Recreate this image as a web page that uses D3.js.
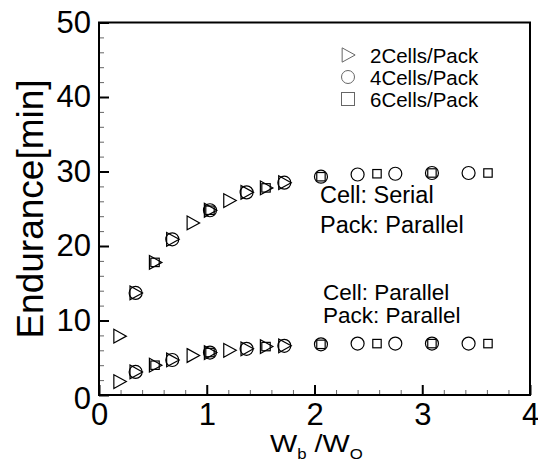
<!DOCTYPE html>
<html>
<head>
<meta charset="utf-8">
<script src="https://cdn.jsdelivr.net/npm/d3@7"></script>
<style>
body{margin:0;background:#fff;}
text{font-family:"Liberation Sans",Arial,Helvetica,sans-serif;fill:#000;}
</style>
</head>
<body>
<div id="canvas"></div>
<script>
// x positions (Wb/Wo) for each pack size
var twoCellX  = [0.19, 0.34, 0.52, 0.68, 0.87, 1.03, 1.21, 1.37, 1.55, 1.72];
var fourCellX = [0.34, 0.68, 1.03, 1.37, 1.72, 2.06, 2.40, 2.75, 3.09, 3.43];
var sixCellX  = [0.52, 1.03, 1.55, 2.06, 2.58, 3.09, 3.61];

// endurance [min], cell serial / pack parallel
var twoCellSerial  = [7.9, 13.7, 17.8, 20.9, 23.1, 24.8, 26.1, 27.2, 27.8, 28.5];
var fourCellSerial = [13.7, 20.9, 24.8, 27.2, 28.5, 29.3, 29.6, 29.7, 29.8, 29.8];
var sixCellSerial  = [17.8, 24.8, 27.8, 29.3, 29.7, 29.8, 29.8];

// endurance [min], cell parallel / pack parallel
var twoCellParallel  = [1.8, 3.1, 4.0, 4.7, 5.3, 5.7, 6.0, 6.2, 6.5, 6.6];
var fourCellParallel = [3.1, 4.7, 5.7, 6.2, 6.6, 6.8, 6.9, 6.9, 6.9, 6.9];
var sixCellParallel  = [4.0, 5.7, 6.5, 6.8, 6.9, 6.9, 6.9];

var legendLabels = ["2Cells/Pack", "4Cells/Pack", "6Cells/Pack"];
var xMajor = [0, 1, 2, 3, 4];
var yMajor = [0, 10, 20, 30, 40, 50];

var width = 538, height = 462;
var plotLeft = 99, plotRight = 530, plotTop = 22.5, plotBottom = 395;

var svg = d3.select("#canvas").append("svg")
	.attr("width", width)
	.attr("height", height);

var x = d3.scaleLinear().domain([0, 4]).range([plotLeft, plotRight]);
var y = d3.scaleLinear().domain([0, 50]).range([plotBottom, plotTop]);

// minor ticks
var xMinor = d3.range(0, 4.01, 0.2).filter(function(v){ return Math.abs(v - Math.round(v)) > 1e-6; });
var yMinor = d3.range(0, 50.1, 2).filter(function(v){ return v % 10 != 0; });

var gxm = svg.append("g").attr("transform", "translate(0," + plotBottom + ")")
	.call(d3.axisBottom(x).tickValues(xMinor).tickSize(-5).tickFormat(""));
var gym = svg.append("g").attr("transform", "translate(" + plotLeft + ",0)")
	.call(d3.axisLeft(y).tickValues(yMinor).tickSize(-5).tickFormat(""));
[gxm, gym].forEach(function(g){
	g.select(".domain").remove();
	g.selectAll("line").attr("stroke", "#666").attr("stroke-width", 1);
});

var gx = svg.append("g").attr("transform", "translate(0," + plotBottom + ")")
	.call(d3.axisBottom(x).tickValues(xMajor).tickSize(-10).tickPadding(8).tickFormat(d3.format("d")));
var gy = svg.append("g").attr("transform", "translate(" + plotLeft + ",0)")
	.call(d3.axisLeft(y).tickValues(yMajor).tickSize(-10).tickPadding(8).tickFormat(d3.format("d")));
[gx, gy].forEach(function(g){
	g.select(".domain").remove();
	g.selectAll("line").attr("stroke", "#000").attr("stroke-width", 2);
	g.selectAll("text").style("font-size", "31px").attr("fill", "#000")
		.style("font-family", '"Liberation Sans",Arial,sans-serif');
});
gy.selectAll("text").filter(function(d){ return d == 0; }).attr("dy", "0.45em");

// frame
svg.append("rect")
	.attr("x", plotLeft).attr("y", plotTop)
	.attr("width", plotRight - plotLeft).attr("height", plotBottom - plotTop)
	.attr("fill", "none").attr("stroke", "#000").attr("stroke-width", 2);

// marker shapes
function tri(s){ return "M" + (-s*0.45) + "," + (-s*0.55) + "L" + (s*0.55) + ",0L" + (-s*0.45) + "," + (s*0.55) + "Z"; }
function drawMarks(xs, ys, shape, cls){
	var g = svg.append("g").attr("class", cls);
	xs.forEach(function(v, i){
		var px = x(v), py = y(ys[i]);
		if(shape == "tri"){
			g.append("path").attr("d", tri(12.5)).attr("transform", "translate(" + px + "," + py + ")")
				.attr("fill", "none").attr("stroke", "#000").attr("stroke-width", 1.2);
		}else if(shape == "circle"){
			g.append("circle").attr("cx", px).attr("cy", py).attr("r", 6.5)
				.attr("fill", "none").attr("stroke", "#000").attr("stroke-width", 1.2);
		}else{
			g.append("rect").attr("x", px - 4.2).attr("y", py - 4.2).attr("width", 8.4).attr("height", 8.4)
				.attr("fill", "none").attr("stroke", "#000").attr("stroke-width", 1.2);
		}
	});
}
drawMarks(twoCellX, twoCellSerial, "tri", "two");
drawMarks(twoCellX, twoCellParallel, "tri", "two");
drawMarks(fourCellX, fourCellSerial, "circle", "four");
drawMarks(fourCellX, fourCellParallel, "circle", "four");
drawMarks(sixCellX, sixCellSerial, "sq", "six");
drawMarks(sixCellX, sixCellParallel, "sq", "six");

// legend
var shapes = ["tri", "circle", "sq"];
legendLabels.forEach(function(lab, i){
	var ly = 55 + i * 22;
	var lg = svg.append("g").attr("transform", "translate(348," + ly + ")");
	if(shapes[i] == "tri"){
		lg.append("path").attr("d", tri(13)).attr("fill", "none").attr("stroke", "#666").attr("stroke-width", 1);
	}else if(shapes[i] == "circle"){
		lg.append("circle").attr("r", 6.5).attr("fill", "none").attr("stroke", "#666").attr("stroke-width", 1);
	}else{
		lg.append("rect").attr("x", -6.5).attr("y", -6.5).attr("width", 13).attr("height", 13)
			.attr("fill", "none").attr("stroke", "#666").attr("stroke-width", 1);
	}
	lg.append("text").attr("x", 22).attr("y", 7.5).style("font-size", "20.5px").text(lab);
});

// annotations
svg.append("text").attr("x", 320).attr("y", 203).style("font-size", "23.5px").text("Cell: Serial");
svg.append("text").attr("x", 320).attr("y", 233).style("font-size", "23.5px").text("Pack: Parallel");
svg.append("text").attr("x", 323).attr("y", 300).style("font-size", "22.5px").text("Cell: Parallel");
svg.append("text").attr("x", 323).attr("y", 323).style("font-size", "22.5px").text("Pack: Parallel");

// axis titles
svg.append("text")
	.attr("transform", "translate(43,209) rotate(-90)")
	.attr("text-anchor", "middle")
	.style("font-size", "37px")
	.text("Endurance[min]");

var xt = svg.append("text").attr("transform", "translate(270,452) scale(1.2,1)").style("font-size", "24px");
xt.append("tspan").text("W");
xt.append("tspan").attr("dy", 7).style("font-size", "14px").text("b");
xt.append("tspan").attr("dy", -7).text(" /W");
xt.append("tspan").attr("dy", 7).style("font-size", "14px").text("O");
</script>
</body>
</html>
